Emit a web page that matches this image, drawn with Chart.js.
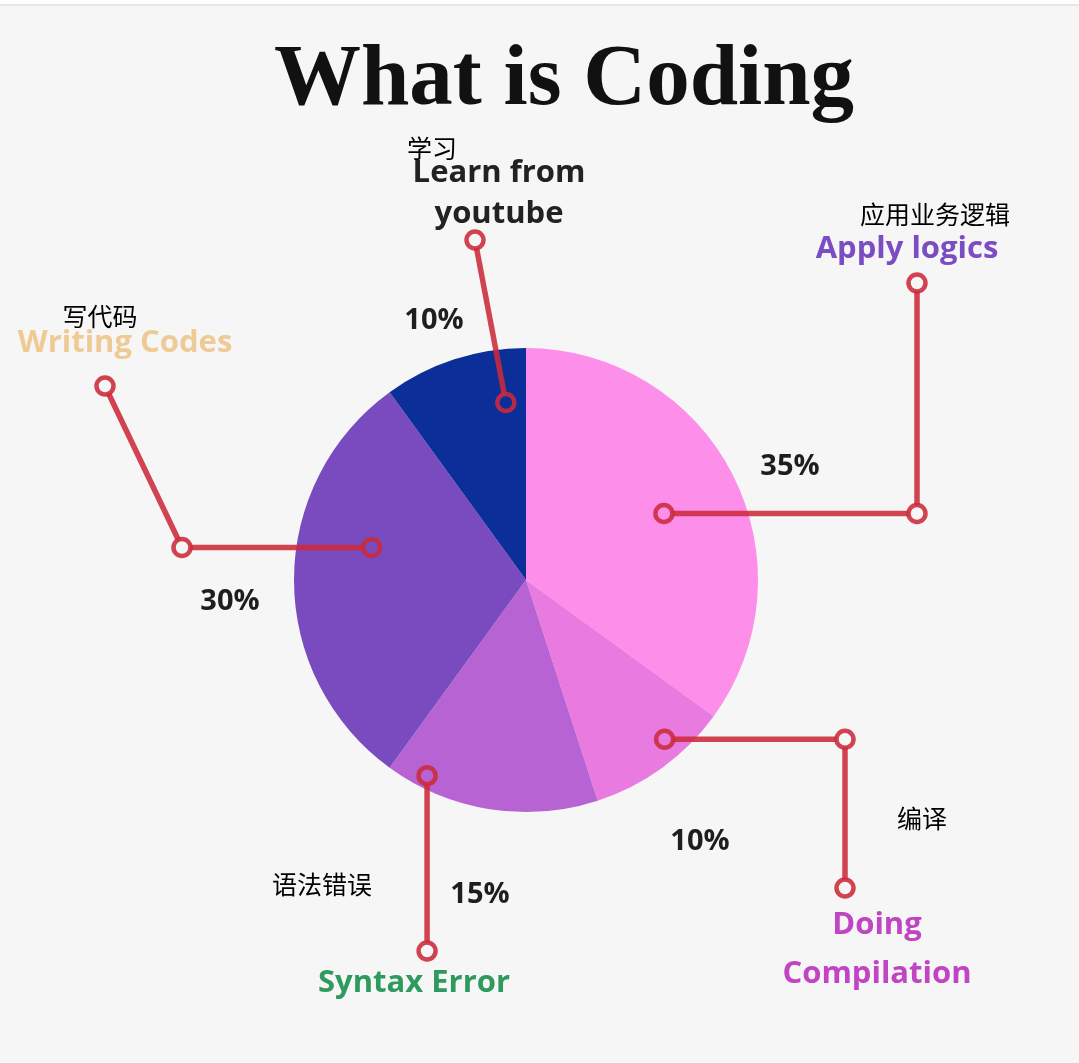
<!DOCTYPE html>
<html>
<head>
<meta charset="utf-8">
<title>What is Coding</title>
<script src="https://cdn.jsdelivr.net/npm/chart.js@4.4.1/dist/chart.umd.min.js"></script>
<style>
  html, body { margin: 0; padding: 0; background: #f6f6f6; }
  canvas { display: block; }
</style>
</head>
<body>
<canvas id="codingPie" width="1079" height="1063"></canvas>
<script>
// fatias, no sentido horário a partir do topo
const etapas = [['Apply logics'], ['Doing', 'Compilation'], ['Syntax Error'], ['Writing Codes'], ['Learn from', 'youtube']];
const etapasZh = ['应用业务逻辑', '编译', '语法错误', '写代码', '学习'];
const percentuais = [35, 10, 15, 30, 10];
const cores = ['#fd8ee9', '#e87ae0', '#b763d3', '#7a4bbf', '#0b2e99'];

// posição das chamadas: ponto dentro da fatia (fração do ângulo / do raio),
// rota da linha em relação ao centro, e onde vão os textos
const chamadas = [
    { ang: 0.51, raio: 0.66, rota: [['h', 391], ['v', -297]], cor: '#7b4cc2',
      texto: { x: 907, y: 249, lh: 0 }, zh: { x: 935, y: 214 }, pct: { x: 790, y: 467 } },
    { ang: 0.36, raio: 0.91, rota: [['h', 319], ['v', 308]], cor: '#c044c4',
      texto: { x: 877, y: 925, lh: 49 }, zh: { x: 922, y: 818 }, pct: { x: 700, y: 842 } },
    { ang: 0.83, raio: 0.945, rota: [['v', 371]], cor: '#2e9a5e',
      texto: { x: 414, y: 983, lh: 0 }, zh: { x: 322, y: 884 }, pct: { x: 480, y: 895 } },
    { ang: 0.61, raio: 0.68, rota: [['h', -344], ['p', -421, -194]], cor: '#f0ca94',
      texto: { x: 125, y: 343, lh: 0 }, zh: { x: 100, y: 316 }, pct: { x: 230, y: 602 } },
    { ang: 0.82, raio: 0.77, rota: [['p', -51, -340]], cor: '#222222',
      texto: { x: 499, y: 173, lh: 41 }, zh: { x: 432, y: 148 }, pct: { x: 434, y: 321 } },
];

const FUNDO = '#f6f6f6';
const VERMELHO = 'rgba(204, 42, 58, 0.88)';

const fundoPlugin = {
    id: 'fundo',
    beforeDraw(chart) {
        const ctx = chart.ctx;
        ctx.save();
        ctx.fillStyle = FUNDO;
        ctx.fillRect(0, 0, chart.width, chart.height);
        ctx.fillStyle = '#ffffff';
        ctx.fillRect(0, 0, chart.width, 4);
        ctx.fillStyle = '#e7e7e7';
        ctx.fillRect(0, 4, chart.width, 2);
        // título
        ctx.fillStyle = '#111111';
        ctx.font = 'bold 87px "Liberation Serif", serif';
        ctx.textAlign = 'center';
        ctx.textBaseline = 'alphabetic';
        ctx.fillText('What is Coding', 564, 104);
        ctx.restore();
    }
};

const chamadasPlugin = {
    id: 'chamadas',
    afterDatasetsDraw(chart) {
        const ctx = chart.ctx;
        const meta = chart.getDatasetMeta(0);
        ctx.save();
        meta.data.forEach((arc, i) => {
            const c = chamadas[i];
            const { x: cx, y: cy, startAngle, endAngle, outerRadius } =
                arc.getProps(['x', 'y', 'startAngle', 'endAngle', 'outerRadius'], true);
            const a = startAngle + (endAngle - startAngle) * c.ang;
            const r = outerRadius * c.raio;
            let p = { x: cx + r * Math.cos(a), y: cy + r * Math.sin(a) };
            const pts = [p];
            for (const [k, u, v] of c.rota) {
                if (k === 'h') p = { x: cx + u, y: p.y };
                else if (k === 'v') p = { x: p.x, y: cy + u };
                else p = { x: cx + u, y: cy + v };
                pts.push(p);
            }

            ctx.strokeStyle = VERMELHO;
            ctx.lineWidth = 5.5;
            ctx.lineJoin = 'round';
            ctx.beginPath();
            pts.forEach((q, j) => j ? ctx.lineTo(q.x, q.y) : ctx.moveTo(q.x, q.y));
            ctx.stroke();

            pts.forEach((q, j) => {
                ctx.beginPath();
                ctx.arc(q.x, q.y, 8.5, 0, Math.PI * 2);
                ctx.fillStyle = j === 0 ? cores[i] : FUNDO;
                ctx.fill();
                ctx.lineWidth = 4.5;
                ctx.stroke();
            });

            // textos
            ctx.textAlign = 'center';
            ctx.textBaseline = 'middle';
            ctx.fillStyle = c.cor;
            ctx.font = 'bold 31px "Open Sans", sans-serif';
            etapas[i].forEach((linha, j) => ctx.fillText(linha, c.texto.x, c.texto.y + j * c.texto.lh));

            ctx.fillStyle = '#000000';
            ctx.font = '25px "Noto Sans CJK SC", sans-serif';
            ctx.fillText(etapasZh[i], c.zh.x, c.zh.y);

            ctx.fillStyle = '#1e1e1e';
            ctx.font = 'bold 29px "Open Sans", sans-serif';
            ctx.fillText(percentuais[i] + '%', c.pct.x, c.pct.y);
        });
        ctx.restore();
    }
};

new Chart(document.getElementById('codingPie'), {
    type: 'pie',
    data: {
        labels: etapas.map(l => l.join(' ')),
        datasets: [{
            data: percentuais,
            backgroundColor: cores,
            borderWidth: 0,
        }],
    },
    options: {
        responsive: false,
        animation: false,
        layout: { padding: { left: 294, right: 321, top: 348, bottom: 251 } },
        plugins: {
            legend: { display: false },
            tooltip: { enabled: false },
        },
    },
    plugins: [fundoPlugin, chamadasPlugin],
});
</script>
</body>
</html>
